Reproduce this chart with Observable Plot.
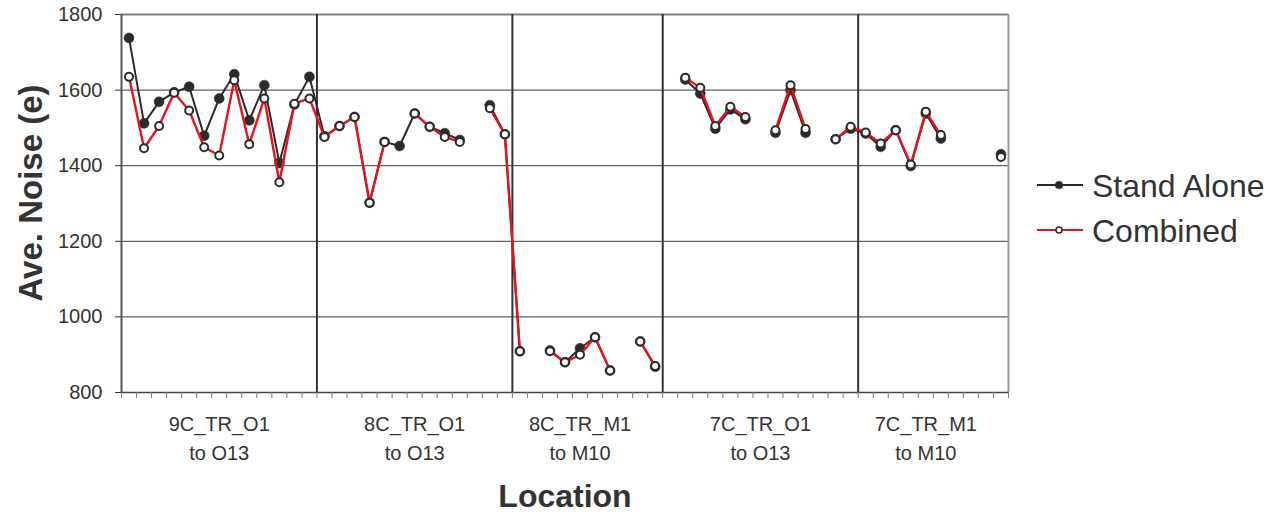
<!DOCTYPE html>
<html><head><meta charset="utf-8">
<script src="https://cdn.jsdelivr.net/npm/d3@7"></script>
<script src="https://cdn.jsdelivr.net/npm/@observablehq/plot@0.6"></script>
<style>
body{margin:0;background:#fff;font-family:"Liberation Sans",Arial,sans-serif;}
#wrap{position:relative;width:1276px;height:514px;overflow:hidden;}
</style></head><body><div id="wrap"></div><script>
// Values (null = missing point)
const standAlone = [
  1738, 1512, 1569, 1594, 1609, 1479, 1578, 1642, 1520, 1613, 1407, 1562, 1635,
  1478, 1505, 1529, 1302, 1463, 1452, 1538, 1503, 1486, 1468, null, 1560, 1483,
  909, null, 911, 880, 917, 946, 858, null, 935, 868,
  null, 1628, 1591, 1498, 1549, 1523, null, 1487, 1600, 1487, null, 1470, 1498,
  1485, 1450, 1494, 1399, 1538, 1472, null, null, null, 1430
];
const combined = [
  1635, 1446, 1505, 1593, 1546, 1449, 1427, 1626, 1457, 1578, 1356, 1564, 1578,
  1476, 1505, 1529, 1302, 1463, null, 1538, 1503, 1476, 1463, null, 1552, 1483,
  909, null, 909, 880, 900, 946, 858, null, 935, 870,
  null, 1633, 1606, 1505, 1556, 1529, null, 1494, 1613, 1497, null, 1470, 1503,
  1488, 1459, 1494, 1403, 1543, 1481, null, null, null, 1423
];
const groupLabels = ["9C_TR_O1\nto O13", "8C_TR_O1\nto O13", "8C_TR_M1\nto M10", "7C_TR_O1\nto O13", "7C_TR_M1\nto M10"];
const groupLabelPos = [6, 19, 30, 42, 53];
const groupDividers = [12.5, 25.5, 35.5, 48.5];
const yTicks = [800, 1000, 1200, 1400, 1600, 1800];
const gridValues = [1000, 1200, 1400, 1600];
const seriesNames = ["Stand Alone", "Combined"];
const nCat = standAlone.length;

const rows = s => s.map((v, i) => ({i, v}));
const catBounds = d3.range(nCat + 1).map(k => k - 0.5);
const dark = "#2b2b2b";
const red = "#e5141b";

const chart = Plot.plot({
  width: 1276,
  height: 514,
  marginLeft: 121,
  marginRight: 268,
  marginTop: 14,
  marginBottom: 122,
  style: {fontFamily: "'Liberation Sans', Arial, sans-serif", background: "white", color: "#333"},
  x: {type: "linear", domain: [-0.5, nCat - 0.5], axis: null},
  y: {domain: [800, 1800], axis: null},
  marks: [
    Plot.ruleY(gridValues, {stroke: "#3a3a3a", strokeWidth: 1}),
    Plot.ruleY([1800], {stroke: "#8a7e7a", strokeWidth: 2}),
    Plot.ruleX([nCat - 0.5], {stroke: "#a09898", strokeWidth: 2}),
    Plot.ruleX(groupDividers, {stroke: "#333", strokeWidth: 2}),
    Plot.ruleX([-0.5], {stroke: "#555", strokeWidth: 2}),
    Plot.ruleY([800], {stroke: "#444", strokeWidth: 1.5}),
    Plot.axisY(yTicks, {tickSize: 6, tickPadding: 13, fontSize: 20, tickFormat: d => String(d), color: "#333", label: null}),
    Plot.axisX(catBounds, {tickSize: 6, tickFormat: () => "", stroke: "#777", label: null}),
    Plot.text(groupLabels, {x: (d, i) => groupLabelPos[i], y: 800, text: d => d, lineAnchor: "top", dy: 17, fontSize: 20, lineHeight: 1.48, fill: "#333"}),
    Plot.line(rows(standAlone), {x: "i", y: "v", stroke: dark, strokeWidth: 2}),
    Plot.dot(rows(standAlone), {x: "i", y: "v", r: 5, fill: dark, stroke: dark, strokeWidth: 0.5}),
    Plot.line(rows(combined), {x: "i", y: "v", stroke: red, strokeWidth: 2.4}),
    Plot.dot(rows(combined), {x: "i", y: "v", r: 4, fill: "white", stroke: dark, strokeWidth: 2})
  ]
});
document.getElementById("wrap").appendChild(chart);

const svg = d3.select(chart);
// Axis titles
svg.append("text")
  .attr("transform", "translate(42,193) rotate(-90)")
  .attr("text-anchor", "middle")
  .attr("font-size", 33).attr("font-weight", "bold").attr("fill", "#333")
  .text("Ave. Noise (e)");
svg.append("text")
  .attr("x", 565).attr("y", 507)
  .attr("text-anchor", "middle")
  .attr("font-size", 32).attr("font-weight", "bold").attr("fill", "#333")
  .text("Location");
// Legend
const leg = svg.append("g").attr("text-anchor", "start");
const legY = [185, 230];
seriesNames.forEach((name, k) => {
  const y = legY[k];
  leg.append("line").attr("x1", 1037).attr("x2", 1083).attr("y1", y).attr("y2", y)
    .attr("stroke", k === 0 ? dark : red).attr("stroke-width", 1.8);
  leg.append("circle").attr("cx", 1059).attr("cy", y).attr("r", k === 0 ? 3.8 : 3)
    .attr("fill", k === 0 ? dark : "white").attr("stroke", dark).attr("stroke-width", k === 0 ? 0.5 : 1.5);
  leg.append("text").attr("x", 1092).attr("y", y + 11.5).attr("text-anchor", "start")
    .attr("font-size", 32).attr("fill", "#333").text(name);
});
</script></body></html>
